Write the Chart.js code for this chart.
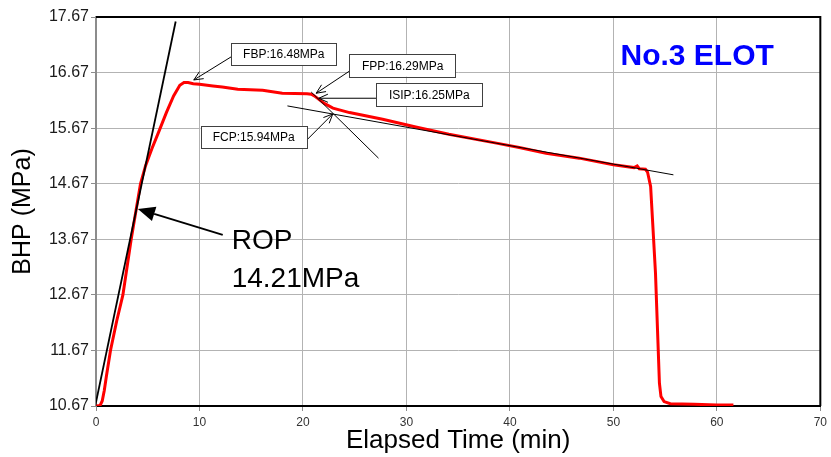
<!DOCTYPE html>
<html>
<head>
<meta charset="utf-8">
<script src="https://cdn.jsdelivr.net/npm/chart.js@4/dist/chart.umd.min.js"></script>
<style>
  html, body { margin: 0; padding: 0; background: #ffffff; }
  #wrap { width: 831px; height: 457px; }
  canvas { display: block; }
</style>
</head>
<body>
<div id="wrap"><canvas id="c" width="831" height="457"></canvas></div>
<script>
// ---- data ----
const xTicks = [0, 10, 20, 30, 40, 50, 60, 70];
const yTicks = [10.67, 11.67, 12.67, 13.67, 14.67, 15.67, 16.67, 17.67];

// Elapsed time (min) and bottom-hole pressure (MPa) of the measured curve
const timeMin = [0, 0.4, 0.6, 0.8, 1.0, 1.4, 2.0, 2.6, 3.4, 4.3, 4.8, 5.4, 6.1, 6.8, 7.5, 8.1, 8.5, 8.9, 9.4, 10.0, 11.3, 12.2, 13.7, 16.1, 18.0, 20.4, 20.8, 21.1, 22.1, 22.9, 24.5, 27.7, 30.9, 34.1, 38.7, 40.9, 43.5, 46.7, 50.0, 52.0, 52.3, 52.5, 53.1, 53.3, 53.6, 53.8, 54.07, 54.3, 54.45, 54.6, 54.9, 55.5, 57.8, 60.0, 61.6];
const bhpMPa  = [10.67, 10.68, 10.76, 10.95, 11.2, 11.67, 12.2, 12.67, 13.67, 14.67, 15.0, 15.3, 15.62, 15.95, 16.25, 16.44, 16.49, 16.49, 16.47, 16.46, 16.43, 16.41, 16.37, 16.35, 16.30, 16.29, 16.28, 16.25, 16.11, 16.03, 15.95, 15.83, 15.69, 15.56, 15.40, 15.32, 15.22, 15.13, 15.01, 14.96, 14.99, 14.94, 14.93, 14.88, 14.62, 13.96, 13.06, 11.86, 11.08, 10.84, 10.75, 10.71, 10.70, 10.69, 10.69];

// tangent lines
const ropLineX = [-0.1, 7.7];
const ropLineY = [10.65, 17.59];
const closureLineX = [18.5, 55.8];
const closureLineY = [16.07, 14.83];
const fppLineX = [20.8, 27.3];
const fppLineY = [16.32, 15.13];

// annotation labels
const boxLabels = ['FBP:16.48MPa', 'FPP:16.29MPa', 'ISIP:16.25MPa', 'FCP:15.94MPa'];
const ropLabel = ['ROP', '14.21MPa'];
const chartTag = 'No.3 ELOT';

const toPts = (xs, ys) => xs.map((v, i) => ({ x: v, y: ys[i] }));

// ---- annotation layout (in data coordinates) ----
const boxes = [
  { text: boxLabels[0], x1: 13.09, x2: 23.21, y1: 17.208, y2: 16.807, from: [13.09, 16.956], to: [9.45, 16.537] },
  { text: boxLabels[1], x1: 24.49, x2: 34.78, y1: 17.005, y2: 16.596, from: [24.66, 16.717], to: [21.28, 16.298] },
  { text: boxLabels[2], x1: 27.07, x2: 37.35, y1: 16.488, y2: 16.069, from: [27.07, 16.208], to: [21.53, 16.208] },
  { text: boxLabels[3], x1: 10.10, x2: 20.38, y1: 15.710, y2: 15.308, from: [20.38, 15.458], to: [22.88, 15.925] }
];
const ropArrow = { from: [12.25, 13.75], to: [4.05, 14.217] };
const ropTextPos = { x: 13.11, y1: 13.50, y2: 12.814 };
const tagPos = { x: 50.69, y: 16.807 };

const FONT = '"Liberation Sans", Arial, sans-serif';

const annoPlugin = {
  id: 'annos',
  beforeDatasetsDraw(chart) {
    const { ctx, chartArea: a } = chart;
    ctx.save();
    ctx.strokeStyle = '#000';
    ctx.lineWidth = 2;
    ctx.beginPath();
    ctx.moveTo(a.left, a.top);
    ctx.lineTo(a.right, a.top);
    ctx.lineTo(a.right, a.bottom);
    ctx.stroke();
    ctx.restore();
  },
  afterDatasetsDraw(chart) {
    const { ctx, scales: { x, y } } = chart;
    const px = v => x.getPixelForValue(v);
    const py = v => y.getPixelForValue(v);
    ctx.save();

    const openArrow = (fx, fy, tx, ty) => {
      ctx.strokeStyle = '#000';
      ctx.lineWidth = 1;
      ctx.beginPath();
      ctx.moveTo(fx, fy);
      ctx.lineTo(tx, ty);
      ctx.stroke();
      const ang = Math.atan2(ty - fy, tx - fx);
      const L = 10, h = 0.42;
      ctx.beginPath();
      ctx.moveTo(tx - L * Math.cos(ang - h), ty - L * Math.sin(ang - h));
      ctx.lineTo(tx, ty);
      ctx.lineTo(tx - L * Math.cos(ang + h), ty - L * Math.sin(ang + h));
      ctx.stroke();
    };

    boxes.forEach(b => {
      openArrow(px(b.from[0]), py(b.from[1]), px(b.to[0]), py(b.to[1]));
      const l = px(b.x1), r = px(b.x2), t = py(b.y1), bt = py(b.y2);
      ctx.fillStyle = '#fff';
      ctx.fillRect(l, t, r - l, bt - t);
      ctx.strokeStyle = '#404040';
      ctx.lineWidth = 1;
      ctx.strokeRect(Math.round(l) + 0.5, Math.round(t) + 0.5, Math.round(r - l), Math.round(bt - t));
      ctx.fillStyle = '#000';
      ctx.font = '12px ' + FONT;
      ctx.textAlign = 'center';
      ctx.textBaseline = 'middle';
      ctx.fillText(b.text, (l + r) / 2, (t + bt) / 2 + 1);
    });

    {
      const fx = px(ropArrow.from[0]), fy = py(ropArrow.from[1]);
      const tx = px(ropArrow.to[0]), ty = py(ropArrow.to[1]);
      const ang = Math.atan2(ty - fy, tx - fx);
      const L = 17, W = 7.5;
      const bx = tx - L * Math.cos(ang), by = ty - L * Math.sin(ang);
      ctx.strokeStyle = '#000';
      ctx.lineWidth = 2;
      ctx.beginPath();
      ctx.moveTo(fx, fy);
      ctx.lineTo(bx, by);
      ctx.stroke();
      ctx.fillStyle = '#000';
      ctx.beginPath();
      ctx.moveTo(tx, ty);
      ctx.lineTo(bx + W * Math.sin(ang), by - W * Math.cos(ang));
      ctx.lineTo(bx - W * Math.sin(ang), by + W * Math.cos(ang));
      ctx.closePath();
      ctx.fill();
    }

    ctx.fillStyle = '#000';
    ctx.font = '28px ' + FONT;
    ctx.textAlign = 'left';
    ctx.textBaseline = 'alphabetic';
    ctx.fillText(ropLabel[0], px(ropTextPos.x), py(ropTextPos.y1));
    ctx.fillText(ropLabel[1], px(ropTextPos.x), py(ropTextPos.y2));

    ctx.fillStyle = '#0000FF';
    ctx.font = 'bold 30px ' + FONT;
    ctx.fillText(chartTag, px(tagPos.x), py(tagPos.y));

    ctx.restore();
  }
};

const bgPlugin = {
  id: 'bg',
  beforeDraw(chart) {
    const { ctx } = chart;
    ctx.save();
    ctx.fillStyle = '#fff';
    ctx.fillRect(0, 0, chart.width, chart.height);
    ctx.restore();
  }
};

new Chart(document.getElementById('c'), {
  type: 'scatter',
  data: {
    datasets: [
      { data: toPts(ropLineX, ropLineY), showLine: true, borderColor: '#000', borderWidth: 1.8, pointRadius: 0 },
      { data: toPts(closureLineX, closureLineY), showLine: true, borderColor: '#000', borderWidth: 1, pointRadius: 0 },
      { data: toPts(fppLineX, fppLineY), showLine: true, borderColor: '#000', borderWidth: 1, pointRadius: 0 },
      { data: toPts(timeMin, bhpMPa), showLine: true, borderColor: '#FF0000', borderWidth: 3, pointRadius: 0, tension: 0 }
    ]
  },
  options: {
    responsive: false,
    animation: false,
    devicePixelRatio: 1,
    layout: { padding: { top: 17, right: 9, left: 0, bottom: 0 } },
    plugins: { legend: { display: false }, tooltip: { enabled: false }, title: { display: false } },
    scales: {
      x: {
        type: 'linear',
        min: 0, max: 70,
        afterBuildTicks: s => { s.ticks = xTicks.map(v => ({ value: v })); },
        afterFit: s => { s.height = 51; },
        ticks: { maxRotation: 0, autoSkip: false, padding: 4, color: '#333', font: { family: FONT, size: 12 } },
        grid: { color: '#b3b3b3', lineWidth: 1, tickLength: 5, tickColor: '#8c8c8c' },
        border: { color: '#000', width: 2 },
        title: { display: true, text: 'Elapsed Time (min)', color: '#000', font: { family: FONT, size: 26 }, padding: { top: 0, bottom: 1 } }
      },
      y: {
        type: 'linear',
        min: 10.67, max: 17.67,
        afterBuildTicks: s => { s.ticks = yTicks.map(v => ({ value: v })); },
        afterFit: s => { s.width = 96; },
        ticks: { padding: 2, color: '#1a1a1a', font: { family: FONT, size: 16 }, callback: v => Number(v).toFixed(2) },
        grid: { color: '#b3b3b3', lineWidth: 1, tickLength: 5, tickColor: '#8c8c8c' },
        border: { color: '#8c8c8c', width: 2 },
        title: { display: true, text: 'BHP (MPa)', color: '#000', font: { family: FONT, size: 25 }, padding: { top: 8, bottom: 0 } }
      }
    }
  },
  plugins: [bgPlugin, annoPlugin]
});
</script>
</body>
</html>
